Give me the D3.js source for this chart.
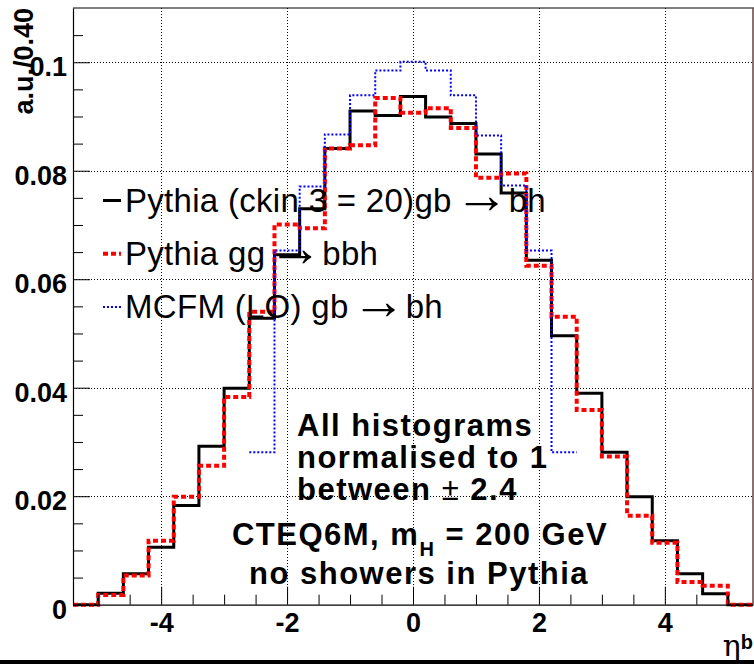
<!DOCTYPE html>
<html>
<head>
<meta charset="utf-8">
<script src="https://cdn.jsdelivr.net/npm/d3@7"></script>
<style>
  html, body { margin: 0; padding: 0; background: #fff; }
  svg { display: block; font-family: "Liberation Sans", Arial, Helvetica, sans-serif; }
</style>
</head>
<body>
<div id="chart"></div>
<script>
// bin edges in eta^b (bin width 0.40)
const etaEdges = [-5.4, -5.0, -4.6, -4.2, -3.8, -3.4, -3.0, -2.6, -2.2, -1.8, -1.4, -1.0, -0.6, -0.2,
                  0.2, 0.6, 1.0, 1.4, 1.8, 2.2, 2.6, 3.0, 3.4, 3.8, 4.2, 4.6, 5.0, 5.4];
const mcfmEdges = [-2.6, -2.2, -1.8, -1.4, -1.0, -0.6, -0.2, 0.2, 0.6, 1.0, 1.4, 1.8, 2.2, 2.6];

const pythiaGb = [0, 0.0021, 0.0057, 0.0106, 0.0183, 0.0292, 0.0399, 0.0528, 0.0645, 0.0730, 0.0841, 0.0910, 0.0902, 0.0937,
                  0.0899, 0.0887, 0.0831, 0.0759, 0.0635, 0.0496, 0.0390, 0.0281, 0.0199, 0.0118, 0.0057, 0.0020, 0];
const pythiaGg = [0, 0.0018, 0.0054, 0.0118, 0.0199, 0.0256, 0.0383, 0.0540, 0.0701, 0.0694, 0.0841, 0.0847, 0.0934, 0.0907,
                  0.0915, 0.0879, 0.0787, 0.0795, 0.0625, 0.0531, 0.0359, 0.0273, 0.0164, 0.0114, 0.0042, 0.0035, 0];
const mcfmGb = [0.0281, 0.0653, 0.0771, 0.0867, 0.0939, 0.0985, 0.1001, 0.0985, 0.0939, 0.0865, 0.0773, 0.0653, 0.0281];

const xMajor = [-4, -2, 0, 2, 4];
const xMinor = [-5, -4.5, -3.5, -3, -2.5, -1.5, -1, -0.5, 0.5, 1, 1.5, 2.5, 3, 3.5, 4.5, 5];
const yMajor = [0, 0.02, 0.04, 0.06, 0.08, 0.1];
const yMinor = [0.005, 0.01, 0.015, 0.025, 0.03, 0.035, 0.045, 0.05, 0.055, 0.065, 0.07, 0.075, 0.085, 0.09, 0.095, 0.105];

// legend labels: [text before arrow, text after arrow]
const legendLabels = [["Pythia (ckin 3 = 20)gb", "bh"], ["Pythia gg", "bbh"], ["MCFM (LO) gb", "bh"]];

const width = 754;
const height = 664;
const margin = { top: 8, right: 1, bottom: 59.3, left: 73 };

const svg = d3.select('#chart')
    .append('svg')
    .attr('width', width)
    .attr('height', height);

const x = d3.scaleLinear()
    .domain([-5.4, 5.4])
    .range([margin.left, width - margin.right]);

const y = d3.scaleLinear()
    .domain([0, 0.11])
    .range([height - margin.bottom, margin.top]);

// dotted grid
const grid = svg.append('g')
    .attr('stroke', '#000')
    .attr('stroke-width', 1)
    .attr('stroke-dasharray', '1,2');
grid.selectAll('.gx')
    .data(xMajor)
    .join('line')
    .attr('x1', d => Math.round(x(d)) + 0.5)
    .attr('x2', d => Math.round(x(d)) + 0.5)
    .attr('y1', y(0.11))
    .attr('y2', y(0));
grid.selectAll('.gy')
    .data(yMajor.filter(d => d > 0))
    .join('line')
    .attr('x1', x(-5.4))
    .attr('x2', x(5.4))
    .attr('y1', d => Math.round(y(d)) + 0.5)
    .attr('y2', d => Math.round(y(d)) + 0.5);

// histogram outline as a step path (ROOT style, no drop at the ends)
function stepPath(edges, vals) {
    const pts = [];
    vals.forEach((v, i) => {
        pts.push([x(edges[i]), y(v)]);
        pts.push([x(edges[i + 1]), y(v)]);
    });
    return d3.line()(pts);
}

svg.append('path')
    .attr('d', stepPath(etaEdges, pythiaGb))
    .attr('fill', 'none')
    .attr('stroke', '#000')
    .attr('stroke-width', 3);

svg.append('path')
    .attr('d', stepPath(etaEdges, pythiaGg))
    .attr('fill', 'none')
    .attr('stroke', '#ff0000')
    .attr('stroke-width', 4)
    .attr('stroke-dasharray', '5,3');

svg.append('path')
    .attr('d', stepPath(mcfmEdges, mcfmGb))
    .attr('fill', 'none')
    .attr('stroke', '#0000ff')
    .attr('stroke-width', 2)
    .attr('stroke-dasharray', '2,2');

// axes, ticks pointing into the frame
function yAxis(g) {
    g.attr('transform', `translate(${margin.left},0)`)
        .call(d3.axisLeft(y).tickValues(yMajor).tickSizeInner(-17).tickSizeOuter(0).tickPadding(6)
            .tickFormat(d => d === 0 ? '0' : d3.format('.2~f')(d)))
        .attr('font-size', '27px')
        .attr('font-family', null)
        .attr('font-weight', 'bold');
    g.selectAll('text').attr('dy', null).attr('y', 13.5);
    g.select('.domain').attr('stroke-width', 1.2);
}

function yMinorAxis(g) {
    g.attr('transform', `translate(${margin.left},0)`)
        .call(d3.axisLeft(y).tickValues(yMinor).tickSizeInner(-10).tickSizeOuter(0).tickFormat(''));
    g.select('.domain').remove();
}

function xAxis(g) {
    g.attr('transform', `translate(0,${y(0)})`)
        .call(d3.axisBottom(x).tickValues(xMajor).tickSizeInner(-18).tickSizeOuter(0).tickPadding(10)
            .tickFormat(d => String(d)))
        .attr('font-size', '27px')
        .attr('font-family', null)
        .attr('font-weight', 'bold');
    g.selectAll('text').attr('dy', null).attr('y', 27);
    g.select('.domain').attr('stroke-width', 1.2);
}

function xMinorAxis(g) {
    g.attr('transform', `translate(0,${y(0)})`)
        .call(d3.axisBottom(x).tickValues(xMinor).tickSizeInner(-10).tickSizeOuter(0).tickFormat(''));
    g.select('.domain').remove();
}

svg.append('g').call(yMinorAxis);
svg.append('g').call(xMinorAxis);
svg.append('g').call(xAxis);
svg.append('g').call(yAxis);

// frame top and right edge
svg.append('line')
    .attr('x1', x(-5.4)).attr('x2', width)
    .attr('y1', y(0.11)).attr('y2', y(0.11))
    .attr('stroke', '#000').attr('stroke-width', 1.2);
svg.append('line')
    .attr('x1', x(5.4)).attr('x2', x(5.4))
    .attr('y1', y(0.11)).attr('y2', y(0))
    .attr('stroke', '#6e4d4d').attr('stroke-width', 1.6);

// axis titles
svg.append('text')
    .attr('transform', `translate(33,${y(0.11)}) rotate(-90)`)
    .attr('text-anchor', 'end')
    .attr('font-size', '27px')
    .attr('font-weight', 'bold')
    .text('a.u./0.40');

const xt = svg.append('text')
    .attr('x', 753)
    .attr('y', 656)
    .attr('text-anchor', 'end');
xt.append('tspan')
    .attr('font-family', '"DejaVu Serif", "Liberation Serif", serif')
    .attr('font-size', '30px')
    .text('\u03b7');
xt.append('tspan')
    .attr('font-size', '20px')
    .attr('font-weight', 'bold')
    .attr('dy', -7)
    .text('b');

// legend
const legend = svg.append('g');
const legendStyles = [
    { stroke: '#000', width: 3, dash: null },
    { stroke: '#ff0000', width: 4, dash: '5,3' },
    { stroke: '#0000ff', width: 2, dash: '2,2' }
];
const legendRows = legend.selectAll('g')
    .data(legendLabels)
    .join('g')
    .attr('transform', (d, i) => `translate(103,${211.5 + i * 53.3})`);
legendRows.append('line')
    .attr('x1', 0).attr('x2', 18)
    .attr('y1', -11).attr('y2', -11)
    .attr('stroke', (d, i) => legendStyles[i].stroke)
    .attr('stroke-width', (d, i) => legendStyles[i].width)
    .attr('stroke-dasharray', (d, i) => legendStyles[i].dash);
const legendText = legendRows.append('text')
    .attr('x', 22)
    .attr('font-size', '33px')
    .attr('letter-spacing', '0.3px');
legendText.append('tspan').text(d => d[0]);
legendText.append('tspan')
    .attr('font-size', '54px')
    .attr('letter-spacing', '0px')
    .attr('dx', 3)
    .attr('dy', 1)
    .text('\u2192');
legendText.append('tspan').attr('dx', 0).attr('dy', -1).text(d => d[1]);

// annotation
const note = svg.append('g')
    .attr('font-weight', 'bold')
    .attr('font-size', '31px')
    .attr('letter-spacing', '1.5px');
note.append('text').attr('x', 297).attr('y', 436).text('All histograms');
note.append('text').attr('x', 297).attr('y', 468).text('normalised to 1');
const btw = note.append('text').attr('x', 297).attr('y', 500);
btw.append('tspan').text('between ');
btw.append('tspan').attr('font-weight', 'normal').text('\u00b1');
btw.append('tspan').text(' 2.4');

const cteq = note.append('text').attr('x', 420).attr('y', 545).attr('text-anchor', 'middle');
cteq.append('tspan').text('CTEQ6M, m');
cteq.append('tspan').attr('font-size', '20px').attr('dy', 11).text('H');
cteq.append('tspan').attr('dy', -11).text(' = 200 GeV');
note.append('text').attr('x', 419).attr('y', 584).attr('text-anchor', 'middle').text('no showers in Pythia');

// bottom border of the canvas
svg.append('rect')
    .attr('x', 0).attr('y', 660)
    .attr('width', width).attr('height', 4)
    .attr('fill', '#000');
</script>
</body>
</html>
